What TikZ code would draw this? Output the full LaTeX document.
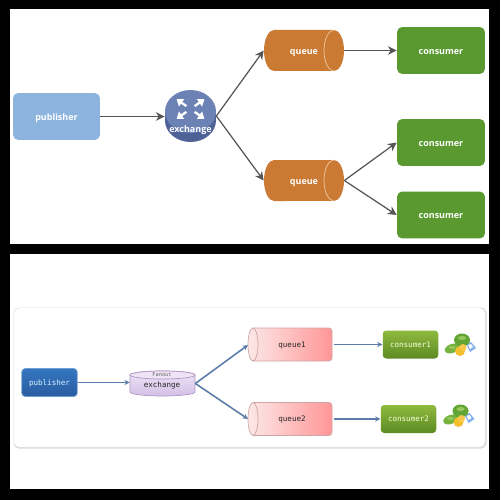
\documentclass[tikz,border=0pt]{standalone}
\usepackage{fontspec}
\setmainfont{Open Sans}
\setmonofont{DejaVu Sans Mono}
\usepackage{tikz}
\usetikzlibrary{arrows.meta, positioning, calc}
\definecolor{myorange}{RGB}{203,122,52}
\definecolor{myorangel}{RGB}{240,200,160}
\definecolor{mygreen}{RGB}{89,153,48}
\definecolor{mysky}{RGB}{141,180,222}
\definecolor{myslate}{RGB}{108,130,181}
\definecolor{myslated}{RGB}{78,98,152}
\definecolor{myline}{RGB}{85,85,85}
\definecolor{mysteel}{RGB}{92,125,170}
\definecolor{mypubt}{RGB}{52,118,192}
\definecolor{mypubb}{RGB}{42,92,160}
\definecolor{myvioa}{RGB}{238,228,246}
\definecolor{myviob}{RGB}{212,192,230}
\definecolor{myviol}{RGB}{176,150,200}
\definecolor{mypinka}{RGB}{253,232,232}
\definecolor{mypinkb}{RGB}{255,150,150}
\definecolor{mypinkl}{RGB}{205,165,165}
\definecolor{mylimea}{RGB}{142,186,62}
\definecolor{mylimeb}{RGB}{92,138,34}
\definecolor{mycasha}{RGB}{118,178,62}
\definecolor{mycashb}{RGB}{98,165,52}
\definecolor{mycashc}{RGB}{150,200,95}
\definecolor{mycoin}{RGB}{245,190,45}
\definecolor{mycard}{RGB}{130,175,235}
\newcommand{\toplabel}{\fontsize{5.1}{6}\selectfont\bfseries}
\newcommand{\lowlabel}{\fontsize{4.3}{5}\selectfont\ttfamily}
\tikzset{
  topbox/.style={rounded corners=3pt, text=white, font=\toplabel, inner sep=0pt, text height=4.5pt, text depth=0pt},
  pubtop/.style={topbox, fill=mysky, minimum width=1.74cm, minimum height=0.94cm},
  contop/.style={topbox, fill=mygreen, minimum width=1.76cm, minimum height=0.94cm},
  qtop/.style={inner sep=0pt, text=white, font=\toplabel, minimum width=1.6cm, minimum height=0.82cm, text height=4.5pt, text depth=0pt},
  extop/.style={inner sep=0pt, minimum width=1.02cm, minimum height=1.04cm},
  lowbox/.style={rounded corners=2pt, inner sep=0pt, font=\lowlabel, text height=3pt, text depth=0pt, minimum width=1.11cm, minimum height=0.56cm},
  pubcon/.style={lowbox, top color=mypubt, bottom color=mypubb, draw=mypubt!70, text=white!85!cyan},
  conlow/.style={lowbox, top color=mylimea, bottom color=mylimeb, text=white!85!lime},
  qlow/.style={inner sep=0pt, font=\lowlabel, text=black!85, minimum width=1.68cm, minimum height=0.67cm, text height=3pt, text depth=0pt},
  arrtop/.style={draw=myline, line width=0.7pt, -{Stealth[length=5pt,width=5pt]}},
  arrlow/.style={draw=mysteel, line width=0.9pt, -{Stealth[length=3pt,width=3pt]}},
}
\newcommand{\moneyicon}[2]{%
  \begin{scope}[shift={(#1,#2)}]
    \fill[mycard] (7,-1) -- (12,-3) -- (17,3) -- (11,7) -- cycle;
    \fill[white] (9,0) -- (12,-1) -- (14,2) -- (11,4) -- cycle;
    \fill[mycasha] (-7,3.5) ellipse[x radius=.15cm, y radius=.09cm, rotate=20];
    \fill[mycashb] (3,-5) ellipse[x radius=.16cm, y radius=.13cm];
    \fill[mycashc] (3,-7) ellipse[x radius=.08cm, y radius=.04cm];
    \fill[mycashc] (-7,2.5) ellipse[x radius=.07cm, y radius=.03cm];
    \fill[mycoin] (1,6) circle[radius=.1cm];
    \fill[mycoin!85!white] (4,2.5) circle[radius=.07cm];
  \end{scope}}
\begin{document}
\begin{tikzpicture}[x=0.02cm, y=-0.02cm]
\useasboundingbox (0,0) rectangle (500,500);
\fill[black] (0,0) rectangle (500,500);
\fill[white] (9.5,9.5) rectangle (489,244);
\fill[white] (9.5,254) rectangle (489,489);

% top diagram
\node[pubtop] (pub) at (56.5,116.5) {publisher};
\fill[myslated] (165,111.5) rectangle (216,120.5);
\fill[myslated] (190.5,120.5) ellipse[x radius=.51cm, y radius=.43cm];
\fill[myslate] (190.5,111.5) ellipse[x radius=.51cm, y radius=.43cm];
\node[extop] (ex) at (190.5,116) {};
\node[text=white, font=\toplabel, inner sep=0pt] (exlabel) at (190.5,130.5) {exchange};
\foreach \a in {35,145,215,325}{
  \draw[white, line width=1.3pt, -{Triangle[length=3.5pt,width=5pt]}] ($(190.5,109)+(\a:5)$) -- ($(190.5,109)+(\a:17)$);
}
\foreach \yq in {50.5,180.5}{
  \fill[myorange] (274,\yq-20.5) -- (334,\yq-20.5) arc[start angle=90, end angle=-90, x radius=.2cm, y radius=.41cm] -- (274,\yq+20.5) arc[start angle=270, end angle=90, x radius=.2cm, y radius=.41cm] -- cycle;
  \draw[myorangel, thin] (334,\yq-20.5) arc[start angle=90, end angle=270, x radius=.2cm, y radius=.41cm];
}
\node[qtop] (q1) at (304,50.5) {queue};
\node[qtop] (q2) at (304,180.5) {queue};
\node[contop] (c1) at (441,50.5) {consumer};
\node[contop] (c2) at (441,142.5) {consumer};
\node[contop] (c3) at (441,215) {consumer};
\draw[arrtop] (pub.east) -- (ex.west |- pub.east);
\draw[arrtop] (ex.east) -- (q1.west);
\draw[arrtop] (ex.east) -- (q2.west);
\draw[arrtop] (q1.east) -- (c1.west);
\draw[arrtop] (q2.east) -- (c2.west);
\draw[arrtop] (q2.east) -- (c3.west);

% bottom diagram
\fill[black!14, rounded corners=3pt] (13.5,307.5) rectangle (486.5,448.5);
\fill[white, rounded corners=3pt] (14,308) rectangle (485,447);
\node[pubcon] (pubb) at (49.5,382.5) {publisher};
\shade[top color=myvioa, bottom color=myviob, draw=myviol, thin] (130,375) -- (130,392) arc[start angle=180, end angle=360, x radius=.65cm, y radius=.08cm] -- (195,375) arc[start angle=0, end angle=180, x radius=.65cm, y radius=.08cm] -- cycle;
\draw[myviol, thin, fill=myvioa] (162.5,375) ellipse[x radius=.65cm, y radius=.08cm];
\node[inner sep=0pt, minimum width=1.3cm, minimum height=.5cm] (exb) at (162.5,383.5) {};
\node[font=\fontsize{3}{4}\selectfont\ttfamily, text=black!60, inner sep=0pt] (fan) at (162,375) {Fanout};
\node[font=\lowlabel, text=black!85, inner sep=0pt] (exblabel) at (162,385) {exchange};
\foreach \yq in {344.5,419}{
  \shade[left color=mypinka, right color=mypinkb, draw=mypinkl, thin] (253,\yq-16.5) -- (329,\yq-16.5) to[out=0,in=90] (332,\yq-13) -- (332,\yq+13) to[out=270,in=0] (329,\yq+16.5) -- (253,\yq+16.5) arc[start angle=270, end angle=90, x radius=.1cm, y radius=.33cm] -- cycle;
  \draw[mypinkl, thin] (253,\yq-16.5) arc[start angle=90, end angle=-90, x radius=.1cm, y radius=.33cm];
}
\node[qlow] (qb1) at (292,344.5) {queue1};
\node[qlow] (qb2) at (292,419) {queue2};
\node[conlow] (cb1) at (410.5,344.5) {consumer1};
\node[conlow] (cb2) at (408.5,419) {consumer2};
\coordinate (qb1end) at (248,345);
\coordinate (qb2end) at (248,419);
\draw[arrlow] (pubb.east) -- (exb.west |- pubb.east);
\draw[arrlow] (exb.east) -- (qb1end);
\draw[arrlow] (exb.east) -- (qb2end);
\draw[arrlow] (qb1.east) -- (cb1.west);
\draw[arrlow] (qb2.east) -- (cb2.west);
\moneyicon{459}{345}
\moneyicon{457.5}{416}
\end{tikzpicture}
\end{document}
